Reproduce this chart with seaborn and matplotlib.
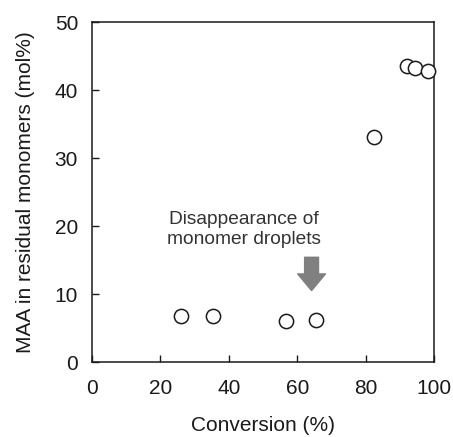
import matplotlib
matplotlib.use("Agg")
import matplotlib.pyplot as plt
import seaborn as sns
import pandas as pd

conversion = [25.9, 35.5, 56.6, 65.5, 82.5, 92.0, 94.4, 98.3]
maa = [6.7, 6.7, 6.0, 6.2, 33.1, 43.5, 43.3, 42.8]
annotation = "Disappearance of\nmonomer droplets"

sns.set_theme(style="white")
plt.rcParams['font.family'] = ['Liberation Sans', 'DejaVu Sans']

df = pd.DataFrame({"Conversion": conversion, "MAA": maa})

fig = plt.figure(figsize=(4.53, 4.37), dpi=100)
ax = fig.add_axes([92/453, 1 - 362/437, (434-92)/453, (362-22)/437])

sns.scatterplot(data=df, x="Conversion", y="MAA", ax=ax, s=105,
                facecolor="white", edgecolor="#1a1a1a", linewidth=1.1, zorder=3, clip_on=False)

ax.set_xlim(0, 100)
ax.set_ylim(0, 50)
ax.set_xticks([0, 20, 40, 60, 80, 100])
ax.set_yticks([0, 10, 20, 30, 40, 50])
ax.tick_params(direction="in", length=5, width=1.0, color="#1a1a1a",
               labelsize=15, labelcolor="#1a1a1a", bottom=True, left=True)
ax.tick_params(axis="x", pad=12)
ax.tick_params(axis="y", pad=10)
for s in ax.spines.values():
    s.set_linewidth(1.1)
    s.set_color("#1a1a1a")

ax.set_xlabel("Conversion (%)", fontsize=15, color="#1a1a1a", labelpad=13.5)
ax.set_ylabel("MAA in residual monomers (mol%)", fontsize=15, color="#1a1a1a", labelpad=14)

ax.text(44.5, 19.5, annotation, ha="center", va="center", fontsize=13.8,
        color="#333333", linespacing=1.25)
ax.annotate("", xy=(64.2, 10.5), xytext=(64.2, 15.4),
            arrowprops=dict(arrowstyle="simple,head_width=1.0,head_length=0.6,tail_width=0.5",
                            fc="#808080", ec="#808080", mutation_scale=20, shrinkA=0, shrinkB=0))

fig.savefig("out.png", dpi=100)
